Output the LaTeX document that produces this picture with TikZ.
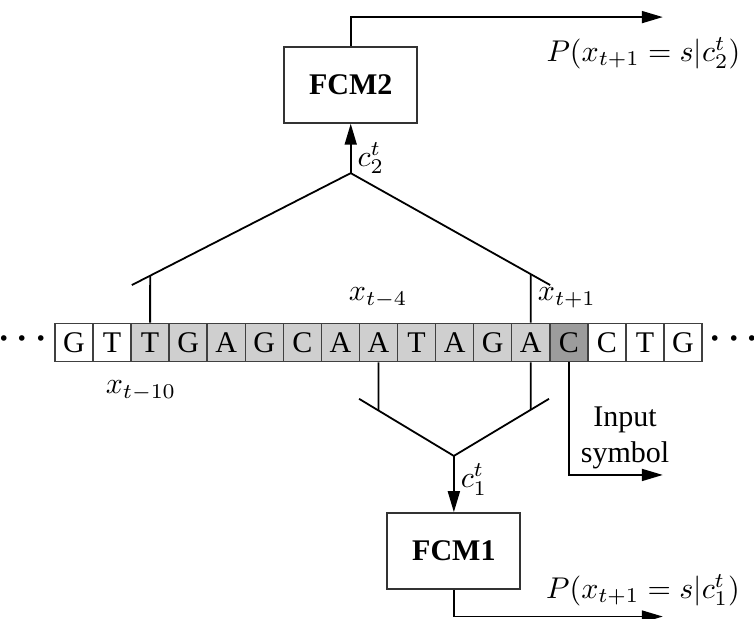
\documentclass[tikz,border=0pt]{standalone}
\usepackage[no-math]{fontspec}
\setmainfont{Liberation Serif}
\usepackage{amsmath}
\usepackage{tikz}
\usetikzlibrary{arrows.meta}
\usetikzlibrary{positioning}
\definecolor{LightCell}{HTML}{CFCFCF}
\definecolor{DarkCell}{HTML}{9C9C9C}
\tikzset{
  cell/.style={draw=black!75, line width=0.5pt, minimum size=0.4459cm, inner sep=0pt},
  fcm/.style={draw=black!80, line width=0.6pt, fill=white, minimum width=1.558cm, minimum height=0.89cm, font=\bfseries},
  wire/.style={line width=0.6pt},
  flow/.style={wire, -{Triangle[length=7pt,width=4pt]}},
  more/.style={inner sep=0pt, font=\large\boldmath}
}

\begin{document}
\begin{tikzpicture}[x=0.4459cm, y=0.4459cm]
    \useasboundingbox (-1.445,-7.239) rectangle (18.366,8.999);
    \foreach \i/\b/\f in {1/G/white, 2/T/white, 3/T/LightCell, 4/G/LightCell, 5/A/LightCell,
        6/G/LightCell, 7/C/LightCell, 8/A/LightCell, 9/A/LightCell, 10/T/LightCell, 11/A/LightCell,
        12/G/LightCell, 13/A/LightCell, 14/C/DarkCell, 15/C/white, 16/T/white, 17/G/white}
      \node[cell, fill=\f] (c\i) at (\i-0.5,0) {\b};
    \node[more] (ldots) at (-0.76,0.09) {$\cdots$};
    \node[more] (rdots) at (17.93,0.09) {$\cdots$};

    \node (xa) at (2.26,-1.27) {$x_{t-10}$};
    \node (xb) at (8.49,1.17) {$x_{t-4}$};
    \node (xc) at (13.45,1.17) {$x_{t+1}$};

    \coordinate (ta) at (2.02,1.51);
    \coordinate (tapex) at (7.77,4.45);
    \coordinate (tb) at (13.01,1.51);
    \draw[wire] (ta) -- (tapex) -- (tb);
    \draw[wire] (c3.north) -- (intersection of c3.north--c3.south and ta--tapex);
    \draw[wire] (c13.north) -- (intersection of c13.north--c13.south and tapex--tb);
    \node[fcm] (fcm2) at (7.77,6.77) {FCM2};
    \draw[flow] (tapex) -- (fcm2) node[pos=0.3, right, inner sep=2pt] {$c_2^t$};
    \coordinate (o2) at (15.97,8.55);
    \draw[flow] (fcm2.north) |- (o2);
    \node (p2) at (15.46,7.61) {$P(x_{t+1}=s|c_2^t)$};

    \coordinate (ba) at (7.99,-1.48);
    \coordinate (bapex) at (10.48,-2.98);
    \coordinate (bb) at (12.98,-1.48);
    \draw[wire] (ba) -- (bapex) -- (bb);
    \draw[wire] (c9.south) -- (intersection of c9.north--c9.south and ba--bapex);
    \draw[wire] (c13.south) -- (intersection of c13.north--c13.south and bapex--bb);
    \node[fcm] (fcm1) at (10.48,-5.48) {FCM1};
    \draw[flow] (bapex) -- (fcm1) node[pos=0.42, right, inner sep=2pt] {$c_1^t$};
    \coordinate (o1) at (15.97,-7.2);
    \draw[flow] (fcm1.south) |- (o1);
    \node (p1) at (15.45,-6.51) {$P(x_{t+1}=s|c_1^t)$};

    \coordinate (oin) at (15.97,-3.48);
    \draw[flow] (c14.south) |- (oin);
    \node[align=center] (insym) at (14.98,-2.51) {Input\\symbol};
  \end{tikzpicture}
\end{document}
